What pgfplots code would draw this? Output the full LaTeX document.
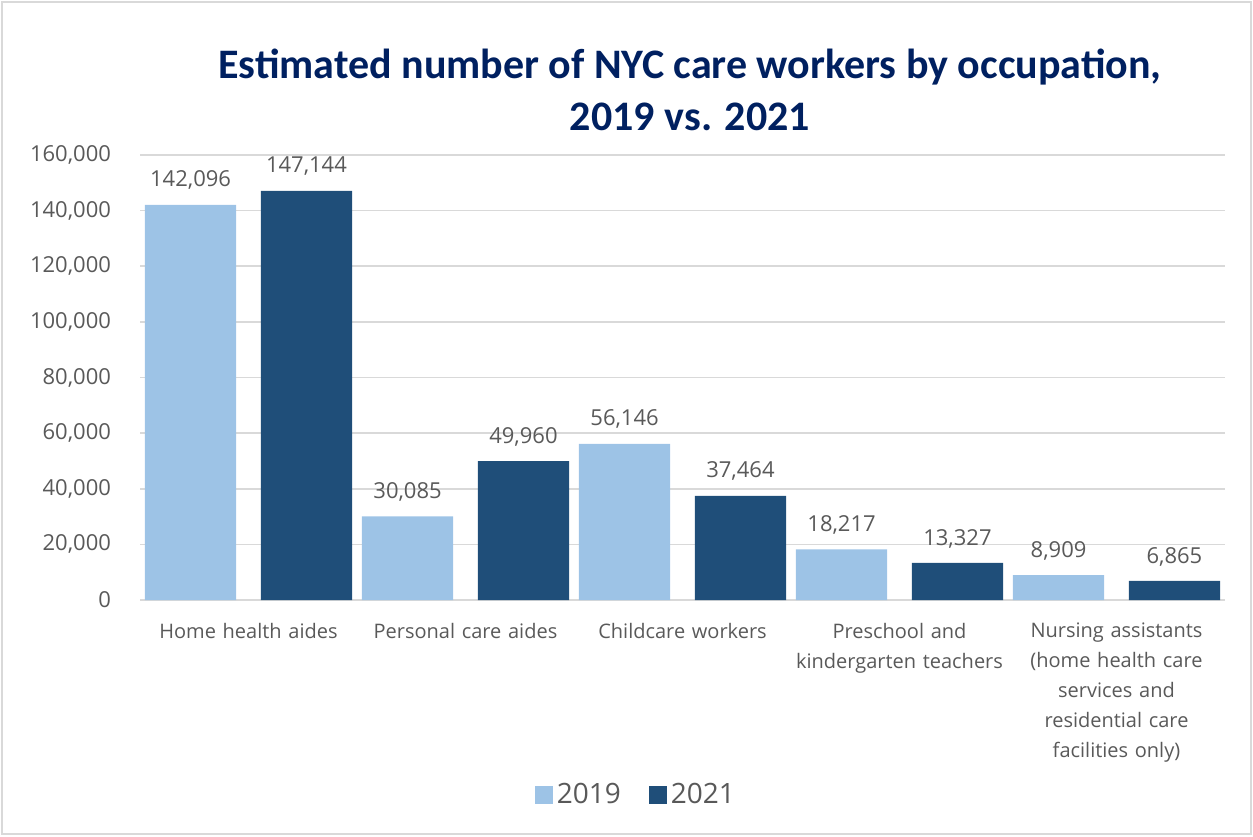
\documentclass[border=0pt]{standalone}
\usepackage{pgfplots}
\pgfplotsset{compat=1.18}
\usepackage{fontspec}
\setmainfont{Open Sans}
\newfontfamily\titlefont{Carlito}
\definecolor{lightbar}{HTML}{9DC3E6}
\definecolor{darkbar}{HTML}{1F4E79}
\definecolor{titlecol}{HTML}{002060}
\definecolor{txt}{HTML}{595959}
\definecolor{gridc}{HTML}{D9D9D9}
\begin{document}
\begin{tikzpicture}
\path[use as bounding box] (0,0) rectangle (626.5pt,418pt);
\draw[gridc, line width=0.8pt] (1pt,1pt) rectangle (625.5pt,417pt);
\node[align=center, font={\titlefont\bfseries\fontsize{21}{26}\selectfont}, text=titlecol] at (345pt,373pt) {Estimated number of NYC care workers by occupation,\\2019 vs. 2021};
\begin{axis}[
  at={(70pt,118pt)}, anchor=south west,
  scale only axis, width=542.5pt, height=222.5pt,
  xmin=-0.5, xmax=4.5, ymin=0, ymax=160000,
  ytick={0,20000,...,160000},
  xtick={0,1,2,3,4},
  xticklabels={Home health aides, Personal care aides, Childcare workers, {Preschool and\\kindergarten teachers}, {Nursing assistants\\(home health care\\services and\\residential care\\facilities only)}},
  xticklabel style={align=center, text width=110pt, font=\fontsize{10}{15}\selectfont, text=txt, yshift=-8pt, anchor=north},
  yticklabel style={font=\fontsize{11}{13}\selectfont, text=txt, xshift=-11pt},
  /pgf/number format/.cd, fixed, 1000 sep={,}, assume math mode=true, /pgfplots/.cd,
  scaled y ticks=false,
  axis line style={draw=none},
  major tick length=0pt,
  ymajorgrids, grid style={gridc, line width=0.8pt},
  ybar, bar width=0.42,
  nodes near coords={\pgfmathprintnumber[fixed,1000 sep={,},assume math mode=true]{\pgfplotspointmeta}},
  nodes near coords style={font=\fontsize{11}{13}\selectfont, text=txt, anchor=south, yshift=4pt},
  legend columns=2,
  legend style={at={(0.458,-0.438)}, anchor=center, draw=none, font=\fontsize{14}{16}\selectfont, text=txt, /tikz/every even column/.append style={column sep=12pt}},
  legend image code/.code={\fill[#1] (0pt,-4.5pt) rectangle (9pt,4.5pt);},
  clip=false,
]
\addplot[fill=lightbar, draw=none, bar shift=-0.267] coordinates {(0,142096) (1,30085) (2,56146) (3,18217) (4,8909)};
\addplot[fill=darkbar, draw=none, bar shift=0.267] coordinates {(0,147144) (1,49960) (2,37464) (3,13327) (4,6865)};
\legend{2019, 2021}
\end{axis}
\end{tikzpicture}
\end{document}
